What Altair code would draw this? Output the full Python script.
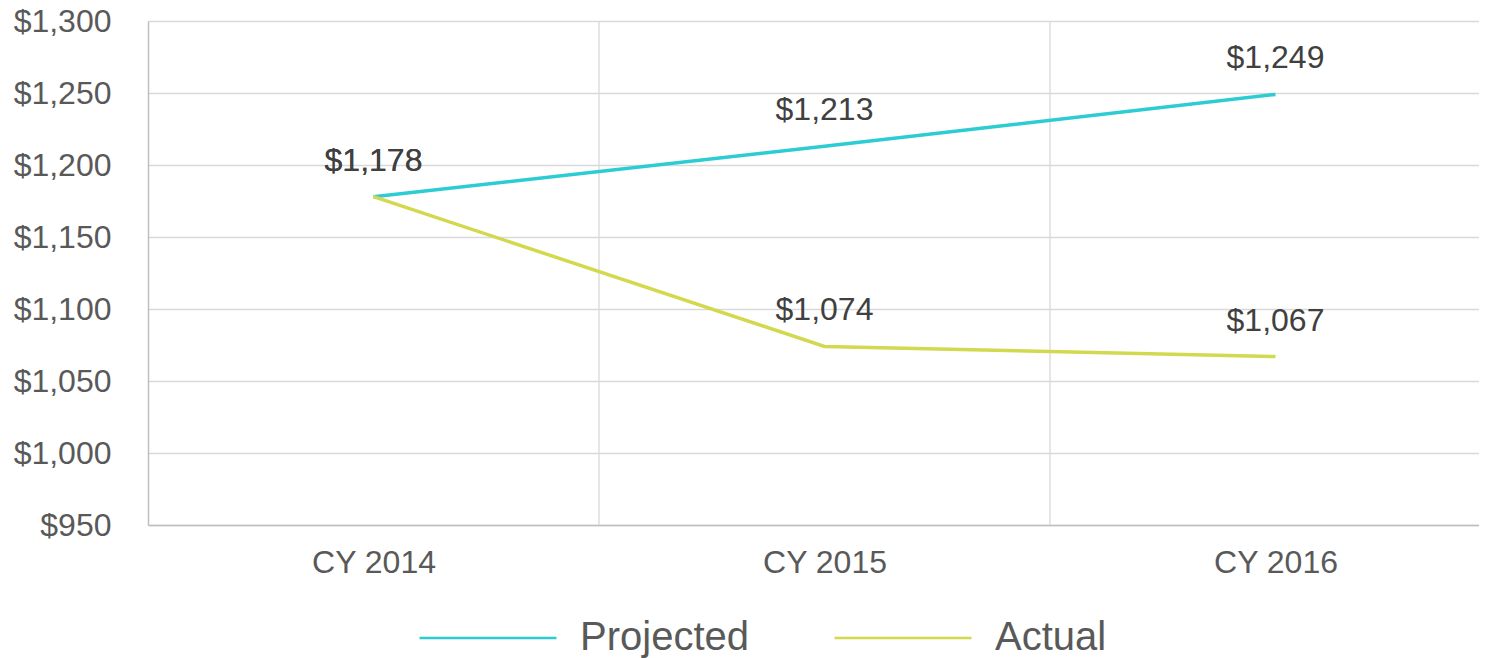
import altair as alt
import pandas as pd

categories = ["CY 2014", "CY 2015", "CY 2016"]
projected = [1178, 1213, 1249]
actual = [1178, 1074, 1067]
series_names = ["Projected", "Actual"]
series_colors = ["#2CCCD3", "#D2D94F"]

rows = []
for i, c in enumerate(categories):
    rows.append({"cat": c, "idx": i, "series": "Projected", "value": projected[i]})
for i, c in enumerate(categories):
    rows.append({"cat": c, "idx": i, "series": "Actual", "value": actual[i]})
df = pd.DataFrame(rows)

bounds = pd.DataFrame({"b": [i + 0.5 for i in range(len(categories))]})

W = 1331
STEP = 451
x_dom = [-0.5, W / STEP - 0.5]
label_expr = "[" + ",".join(f"'{c}'" for c in categories) + "][datum.value]"

x_scale = alt.Scale(domain=x_dom, zero=False, nice=False)
y_scale = alt.Scale(domain=[950, 1300], zero=False, nice=False)

font = "Liberation Sans"

grid_v = alt.Chart(bounds).mark_rule(color="#d9d9d9", strokeWidth=1.3, clip=True).encode(
    x=alt.X("b:Q", scale=x_scale)
)

lines = alt.Chart(df).mark_line(strokeWidth=3.5, clip=True).encode(
    x=alt.X(
        "idx:Q",
        scale=x_scale,
        axis=alt.Axis(
            values=list(range(len(categories))),
            labelExpr=label_expr,
            grid=False,
            ticks=False,
            domain=True,
            domainColor="#bfbfbf",
            domainWidth=1.5,
            labelFontSize=32,
            labelColor="#595959",
            labelFont=font,
            labelPadding=22,
            title=None,
        ),
    ),
    y=alt.Y(
        "value:Q",
        scale=y_scale,
        axis=alt.Axis(
            values=list(range(950, 1301, 50)),
            format="$,.0f",
            grid=True,
            gridColor="#d9d9d9",
            gridWidth=1.3,
            ticks=False,
            domain=True,
            domainColor="#bfbfbf",
            domainWidth=1.5,
            labelFontSize=32,
            labelColor="#595959",
            labelFont=font,
            labelPadding=37,
            title=None,
        ),
    ),
    color=alt.Color(
        "series:N",
        scale=alt.Scale(domain=series_names, range=series_colors),
        sort=series_names,
        legend=alt.Legend(
            title=None,
            orient="none",
            legendX=270,
            legendY=547,
            direction="horizontal",
            symbolType="stroke",
            symbolSize=18769,
            symbolStrokeWidth=2.5,
            labelFontSize=40,
            labelFont=font,
            labelColor="#595959",
            labelOffset=22,
            labelLimit=400,
            columnPadding=80,
        ),
    ),
    detail="series:N",
)

labels = alt.Chart(df).mark_text(
    dy=-36, fontSize=32, font=font, color="#404040", baseline="middle"
).encode(
    x=alt.X("idx:Q", scale=x_scale),
    y=alt.Y("value:Q", scale=y_scale),
    text=alt.Text("value:Q", format="$,.0f"),
)

chart = alt.layer(grid_v, lines, labels).properties(
    width=W,
    height=504,
    autosize=alt.AutoSizeParams(type="none"),
    padding={"left": 140, "top": 13, "right": 0, "bottom": 133},
    background="white",
).configure_view(stroke=None)

chart.save("out.html", embed_options={"renderer": "svg", "actions": False})
